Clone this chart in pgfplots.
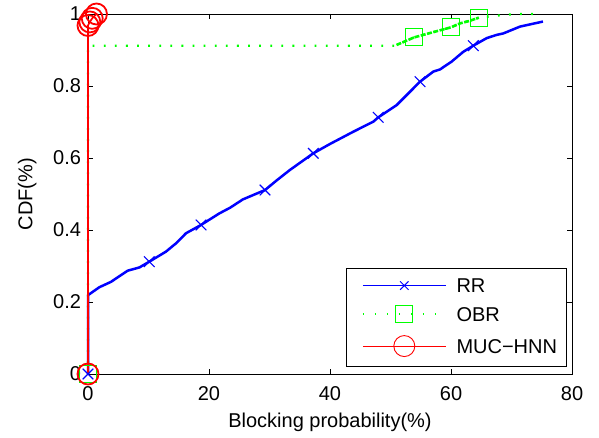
\documentclass[border=0pt]{standalone}
\usepackage{fontspec}
\setmainfont{Liberation Sans}
\usepackage{pgfplots}
\pgfplotsset{compat=1.18}
\definecolor{mgreen}{rgb}{0,1,0}
\newcommand{\ff}{\fontsize{20}{24}\selectfont}
\begin{document}
\begin{tikzpicture}
\begin{axis}[
  scale only axis,
  width=484pt, height=360pt,
  xmin=0, xmax=80, ymin=0, ymax=1,
  xtick={0,20,40,60,80},
  ytick={0,0.2,0.4,0.6,0.8,1},
  minor tick num=0,
  tick align=inside,
  major tick length=5pt,
  axis line style={line width=0.9pt},
  every tick/.style={black, line width=0.8pt},
  /pgf/number format/assume math mode=true,
  tick label style={font=\ff},
  yticklabel style={xshift=-3.5pt},
  xticklabel style={yshift=-8.5pt},
  label style={font=\ff},
  xlabel={Blocking probability(\%)},
  ylabel={CDF(\%)},
  xlabel style={at={(axis description cs:0.5,0)}, anchor=base, yshift=-53.3pt},
  ylabel style={at={(axis description cs:0,0.5)}, anchor=base, xshift=0pt, yshift=55.7pt},
  clip=false,
  legend cell align=left,
  legend style={at={(rel axis cs:0.9897,0.0194)}, anchor=south east,
    draw=black, line width=0.9pt, font=\ff,
    inner xsep=9.5pt, inner ysep=10pt, row sep=13pt,
    nodes={inner sep=0pt, text height=14pt, text depth=0pt},
    /tikz/every odd column/.append style={column sep=10pt}},
  legend image code/.code={
    \path (0pt,0pt);
    \draw[mark repeat=2,mark phase=2,#1] plot coordinates {(6.5pt,0pt)(48pt,0pt)(89.5pt,0pt)};
  },
]
% OBR
\addplot[forget plot, color=mgreen, line width=2.2pt, dash pattern=on 1.8pt off 9.3pt] coordinates {
(0,0) (0,0.912) (51,0.912) (51,0.914) (53.9,0.935) (56.5,0.947) (60,0.963) (61.5,0.974) (63.1,0.981) (64.6,0.99) (67.3,0.995) (69,0.998) (71.7,1) (74,1)
};
\addplot[forget plot, color=mgreen, line width=2.6pt, dash pattern=on 5pt off 1.5pt] coordinates {
(51,0.914) (53.9,0.935) (56.5,0.947) (60,0.963) (61.5,0.974) (63.1,0.981) (64.6,0.99)
};
\addplot[forget plot, only marks, color=mgreen, mark=square, mark size=8.5pt, mark options={line width=1.1pt}] coordinates {
(0,0) (53.9,0.937) (60,0.963) (64.6,0.99)
};
% RR
\addplot[forget plot, color=blue, line width=2.5pt, line join=round] coordinates {
(0,0) (0,0.219) (1.87,0.241) (3.8,0.256) (6.56,0.287) (8.5,0.296) (10.13,0.312) (12.89,0.340) (14.55,0.363) (16.2,0.391) (18.68,0.414) (21.7,0.446) (23.5,0.462) (25.6,0.485) (29.26,0.511) (31.2,0.538) (33.39,0.567) (37.24,0.613) (40.0,0.639) (43.85,0.673) (47.16,0.701) (47.98,0.713) (51.02,0.747) (53.22,0.784) (54.88,0.812) (57.07,0.840) (58.18,0.846) (60.12,0.868) (62.03,0.895) (63.69,0.912) (65.9,0.933) (67.55,0.942) (68.64,0.946) (71.4,0.965) (75.2,0.979)
};
\addplot[forget plot, only marks, color=blue, mark=x, mark size=7.5pt, mark options={line width=1.1pt}] coordinates {
(0,0) (10.13,0.312) (18.68,0.414) (29.26,0.511) (37.24,0.613) (47.98,0.713) (54.88,0.812) (63.69,0.912)
};
% MUC-HNN
\addplot[forget plot, color=red, line width=1.7pt] coordinates {
(0,0) (0,0.968) (0.3,0.978) (0.7,0.988) (1.4,1.0)
};
\addplot[forget plot, only marks, color=red, mark=o, mark size=10.5pt, mark options={line width=1.8pt}] coordinates {
(0,0) (0,0.968) (0.3,0.978) (0.7,0.988) (1.4,1.0)
};
\addlegendimage{color=blue, line width=0.9pt, mark=x, mark size=6pt, mark options={solid}}
\addlegendentry{RR}
\addlegendimage{color=mgreen, line width=1.4pt, dash pattern=on 1.4pt off 10.6pt, mark=square, mark size=8.5pt, mark options={solid, line width=0.9pt}}
\addlegendentry{OBR}
\addlegendimage{color=red, line width=0.9pt, mark=o, mark size=10.5pt, mark options={solid}}
\addlegendentry{MUC{\fontspec{Liberation Sans}−}HNN}
\end{axis}
\path[use as bounding box] ([xshift=-88pt,yshift=-63pt]current axis.south west) rectangle ++(599pt,437pt);
\end{tikzpicture}
\end{document}
